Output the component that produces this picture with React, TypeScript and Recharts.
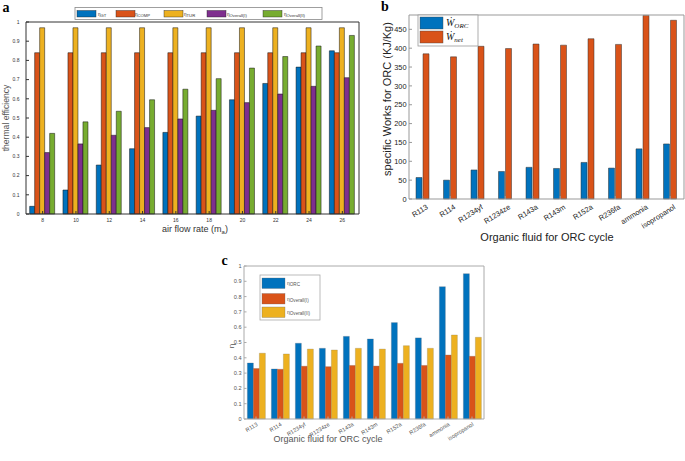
import React from 'react'
import { BarChart, Bar, XAxis, YAxis } from 'recharts'

// ── Colours (MATLAB default order) ───────────────────────────────────────────
const BLUE = '#0072BD'
const ORANGE = '#D95319'
const YELLOW = '#EDB120'
const PURPLE = '#7E2F8E'
const GREEN = '#77AC30'

// ── Panel a: efficiencies vs air flow rate ───────────────────────────────────
const airFlow = [8, 10, 12, 14, 16, 18, 20, 22, 24, 26]
const etaGT = [0.04, 0.125, 0.255, 0.34, 0.425, 0.51, 0.595, 0.68, 0.765, 0.85]
const etaCOMP = [0.84, 0.84, 0.84, 0.84, 0.84, 0.84, 0.84, 0.84, 0.84, 0.84]
const etaTUR = [0.97, 0.97, 0.97, 0.97, 0.97, 0.97, 0.97, 0.97, 0.97, 0.97]
const etaOverallI = [0.32, 0.365, 0.41, 0.45, 0.495, 0.54, 0.58, 0.625, 0.665, 0.71]
const etaOverallII = [0.42, 0.48, 0.535, 0.595, 0.65, 0.705, 0.76, 0.82, 0.875, 0.93]
const ticksA = [0, 0.1, 0.2, 0.3, 0.4, 0.5, 0.6, 0.7, 0.8, 0.9, 1]

// ── Panel b / c: organic fluids ──────────────────────────────────────────────
const fluids = ['R113', 'R114', 'R1234yf', 'R1234ze', 'R143a', 'R143m', 'R152a', 'R236fa', 'ammonia', 'isopropanol']
const wORC = [57, 50, 77, 73, 84, 81, 97, 82, 133, 146]
const wNet = [385, 377, 405, 399, 411, 408, 425, 410, 487, 474]
const ticksB = [0, 50, 100, 150, 200, 250, 300, 350, 400, 450]

const etaORC = [0.366, 0.327, 0.495, 0.462, 0.54, 0.523, 0.63, 0.53, 0.865, 0.95]
const etaOvI = [0.33, 0.325, 0.345, 0.342, 0.35, 0.346, 0.364, 0.35, 0.418, 0.41]
const etaOvII = [0.43, 0.425, 0.457, 0.451, 0.462, 0.457, 0.479, 0.462, 0.549, 0.534]
const ticksC = [0, 0.1, 0.2, 0.3, 0.4, 0.5, 0.6, 0.7, 0.8, 0.9, 1]

const dataA = airFlow.map((f, i) => ({
  flow: f, gt: etaGT[i], comp: etaCOMP[i], tur: etaTUR[i], ov1: etaOverallI[i], ov2: etaOverallII[i],
}))
const dataB = fluids.map((f, i) => ({ fluid: f, orc: wORC[i], net: wNet[i] }))
const dataC = fluids.map((f, i) => ({ fluid: f, orc: etaORC[i], ov1: etaOvI[i], ov2: etaOvII[i] }))

const SANS = '"Liberation Sans", Arial, sans-serif'
const SERIF = '"Liberation Serif", "Times New Roman", serif'

const fmtEta = (v: number) => (v === 0 ? '0' : v === 1 ? '1' : String(v))

// rotated category labels (MATLAB style)
function RotTick(props: any) {
  const { x, y, payload, fontSize, fill, angle, dx, dy } = props
  return (
    <g transform={`translate(${x + dx},${y + dy}) rotate(${angle})`}>
      <text x={0} y={0} dy={fontSize * 0.7} textAnchor="end" fontSize={fontSize} fill={fill} fontFamily={SANS}>
        {payload.value}
      </text>
    </g>
  )
}

// ── Legends / labels overlay ─────────────────────────────────────────────────
const legendA = [
  { sub: 'GT', color: BLUE, sx: 77, tx: 98 },
  { sub: 'COMP', color: ORANGE, sx: 116, tx: 135 },
  { sub: 'TUR', color: YELLOW, sx: 164, tx: 184 },
  { sub: 'Overall(I)', color: PURPLE, sx: 207, tx: 227 },
  { sub: 'Overall(II)', color: GREEN, sx: 263, tx: 284 },
]
const legendB = [
  { sub: 'ORC', color: BLUE, y: 17 },
  { sub: 'net', color: ORANGE, y: 31 },
]
const legendC = [
  { sub: 'ORC', color: BLUE, y: 278 },
  { sub: 'Overall(I)', color: ORANGE, y: 293.5 },
  { sub: 'Overall(II)', color: YELLOW, y: 307 },
]

function Overlay() {
  return (
    <svg width={685} height={461} style={{ position: 'absolute', left: 0, top: 0, pointerEvents: 'none' }}>
      {/* panel letters */}
      <text x={2.5} y={11.5} fontFamily={SERIF} fontWeight="bold" fontSize={14}>a</text>
      <text x={381} y={10.7} fontFamily={SERIF} fontWeight="bold" fontSize={14}>b</text>
      <text x={221.5} y={265} fontFamily={SERIF} fontWeight="bold" fontSize={14}>c</text>

      {/* panel a axis labels */}
      <text x={9} y={118} transform="rotate(-90, 9, 118)" textAnchor="middle" fontFamily={SANS} fontSize={8.6} fill="#555">
        thermal efficiency
      </text>
      <text x={195} y={232} textAnchor="middle" fontFamily={SANS} fontSize={9} fill="#333">
        air flow rate (m<tspan fontSize={6} dy={2}>a</tspan><tspan dy={-2}>)</tspan>
      </text>

      {/* panel a legend */}
      <rect x={75} y={7.5} width={247} height={12} fill="#fff" stroke="#888" strokeWidth={0.8} />
      {legendA.map(l => (
        <g key={l.sub}>
          <rect x={l.sx} y={10.5} width={19} height={6.5} fill={l.color} stroke="#222" strokeWidth={0.4} />
          <text x={l.tx} y={16} fontFamily={SANS} fontSize={4.6} fill="#333">
            η<tspan fontSize={4.2} dy={1}>{l.sub}</tspan>
          </text>
        </g>
      ))}

      {/* panel b axis labels */}
      <text x={391} y={99} transform="rotate(-90, 391, 99)" textAnchor="middle" fontFamily={SANS} fontSize={11} fill="#222">
        specific Works for ORC (KJ/Kg)
      </text>
      <text x={547} y={241} textAnchor="middle" fontFamily={SANS} fontSize={11} fill="#222">
        Organic fluid for ORC cycle
      </text>

      {/* panel b legend */}
      <rect x={418} y={15} width={60} height={31} fill="#fff" stroke="#999" strokeWidth={0.8} />
      {legendB.map(l => (
        <g key={l.sub}>
          <rect x={420} y={l.y} width={23} height={12} fill={l.color} stroke="#444" strokeWidth={0.4} />
          <text x={446} y={l.y + 9} fontFamily={SERIF} fontStyle="italic" fontSize={10} fill="#111">
            Ẇ<tspan fontSize={7} dy={2}>{l.sub}</tspan>
          </text>
        </g>
      ))}

      {/* panel c axis labels */}
      <text x={234} y={346} transform="rotate(-90, 234, 346)" textAnchor="middle" fontFamily={SANS} fontSize={8} fill="#555">
        η
      </text>
      <text x={328} y={442} textAnchor="middle" fontFamily={SANS} fontSize={9} fill="#555">
        Organic fluid for ORC cycle
      </text>

      {/* panel c legend */}
      <rect x={260} y={275} width={60} height={45} fill="#fff" stroke="#aaa" strokeWidth={0.8} />
      {legendC.map(l => (
        <g key={l.sub}>
          <rect x={262} y={l.y} width={23} height={10.5} fill={l.color} stroke="#666" strokeWidth={0.3} />
          <text x={287} y={l.y + 7} fontFamily={SANS} fontSize={5} fill="#555">
            η<tspan fontSize={4.6} dy={1.2}>{l.sub}</tspan>
          </text>
        </g>
      ))}
    </svg>
  )
}

// ── Main ─────────────────────────────────────────────────────────────────────
export default function App() {
  return (
    <div style={{ position: 'absolute', left: 0, top: 0, width: 685, height: 461, background: '#fff', overflow: 'hidden' }}>
      {/* panel a */}
      <div style={{ position: 'absolute', left: 0, top: 0 }}>
        <BarChart width={365} height={240} data={dataA} margin={{ top: 21, right: 5, left: 0, bottom: 0 }} barCategoryGap="11%" barGap={0}>
          <XAxis dataKey="flow" height={26} interval={0} tickSize={-3} tickMargin={7}
            tick={{ fontSize: 5, fill: '#333', fontFamily: SANS }} axisLine={{ stroke: '#333' }} tickLine={{ stroke: '#333' }} />
          <XAxis xAxisId="top" orientation="top" dataKey="flow" height={1} interval={0} tickSize={-3} tick={false}
            axisLine={{ stroke: '#333' }} tickLine={{ stroke: '#333' }} />
          <YAxis width={26} type="number" domain={[0, 1]} ticks={ticksA} tickSize={-3} tickMargin={9.5} tickFormatter={fmtEta}
            tick={{ fontSize: 5, fill: '#333', fontFamily: SANS }} axisLine={{ stroke: '#333' }} tickLine={{ stroke: '#333' }} />
          <YAxis yAxisId="r" orientation="right" width={1} type="number" domain={[0, 1]} ticks={ticksA} tickSize={-3} tick={false}
            axisLine={{ stroke: '#333' }} tickLine={{ stroke: '#333' }} />
          <Bar dataKey="gt" fill={BLUE} stroke="#111" strokeWidth={0.5} isAnimationActive={false} />
          <Bar dataKey="comp" fill={ORANGE} stroke="#111" strokeWidth={0.5} isAnimationActive={false} />
          <Bar dataKey="tur" fill={YELLOW} stroke="#111" strokeWidth={0.5} isAnimationActive={false} />
          <Bar dataKey="ov1" fill={PURPLE} stroke="#111" strokeWidth={0.5} isAnimationActive={false} />
          <Bar dataKey="ov2" fill={GREEN} stroke="#111" strokeWidth={0.5} isAnimationActive={false} />
        </BarChart>
      </div>

      {/* panel b */}
      <div style={{ position: 'absolute', left: 345, top: 0 }}>
        <BarChart width={340} height={245} data={dataB} margin={{ top: 14, right: 0, left: 0, bottom: 0 }} barSize={6} barGap={1}>
          <XAxis dataKey="fluid" height={46} interval={0} tickSize={-3} tickMargin={3}
            tick={<RotTick fontSize={7.4} fill="#222" angle={-32} dx={3} dy={5} />}
            axisLine={{ stroke: '#999' }} tickLine={{ stroke: '#999' }} />
          <XAxis xAxisId="top" orientation="top" dataKey="fluid" height={1} interval={0} tickSize={-3} tick={false}
            axisLine={{ stroke: '#999' }} tickLine={{ stroke: '#999' }} />
          <YAxis width={64} type="number" domain={[0, 488]} ticks={ticksB} tickSize={-3} tickMargin={5.5}
            tick={{ fontSize: 7.4, fill: '#222', fontFamily: SANS }} axisLine={{ stroke: '#999' }} tickLine={{ stroke: '#999' }} />
          <YAxis yAxisId="r" orientation="right" width={1} type="number" domain={[0, 488]} ticks={ticksB} tickSize={-3} tick={false}
            axisLine={{ stroke: '#999' }} tickLine={{ stroke: '#999' }} />
          <Bar dataKey="orc" fill={BLUE} stroke="#333" strokeWidth={0.5} isAnimationActive={false} />
          <Bar dataKey="net" fill={ORANGE} stroke="#333" strokeWidth={0.5} isAnimationActive={false} />
        </BarChart>
      </div>

      {/* panel c */}
      <div style={{ position: 'absolute', left: 210, top: 240 }}>
        <BarChart width={290} height={221} data={dataC} margin={{ top: 25, right: 15, left: 0, bottom: 0 }} barCategoryGap="14%" barGap={0}>
          <XAxis dataKey="fluid" height={42} interval={0} tickSize={-2.5} tickMargin={2.5}
            tick={<RotTick fontSize={5.6} fill="#555" angle={-32} dx={0} dy={3} />}
            axisLine={{ stroke: '#aaa' }} tickLine={{ stroke: '#aaa' }} />
          <XAxis xAxisId="top" orientation="top" dataKey="fluid" height={1} interval={0} tickSize={-2.5} tick={false}
            axisLine={{ stroke: '#aaa' }} tickLine={{ stroke: '#aaa' }} />
          <YAxis width={34} type="number" domain={[0, 1]} ticks={ticksC} tickSize={-2.5} tickMargin={5} tickFormatter={fmtEta}
            tick={{ fontSize: 5.6, fill: '#555', fontFamily: SANS }} axisLine={{ stroke: '#aaa' }} tickLine={{ stroke: '#aaa' }} />
          <YAxis yAxisId="r" orientation="right" width={1} type="number" domain={[0, 1]} ticks={ticksC} tickSize={-2.5} tick={false}
            axisLine={{ stroke: '#aaa' }} tickLine={{ stroke: '#aaa' }} />
          <Bar dataKey="orc" fill={BLUE} stroke="#5a6a7a" strokeWidth={0.3} isAnimationActive={false} />
          <Bar dataKey="ov1" fill={ORANGE} stroke="#7a5a4a" strokeWidth={0.3} isAnimationActive={false} />
          <Bar dataKey="ov2" fill={YELLOW} stroke="#8a7a4a" strokeWidth={0.3} isAnimationActive={false} />
        </BarChart>
      </div>

      <Overlay />
    </div>
  )
}
